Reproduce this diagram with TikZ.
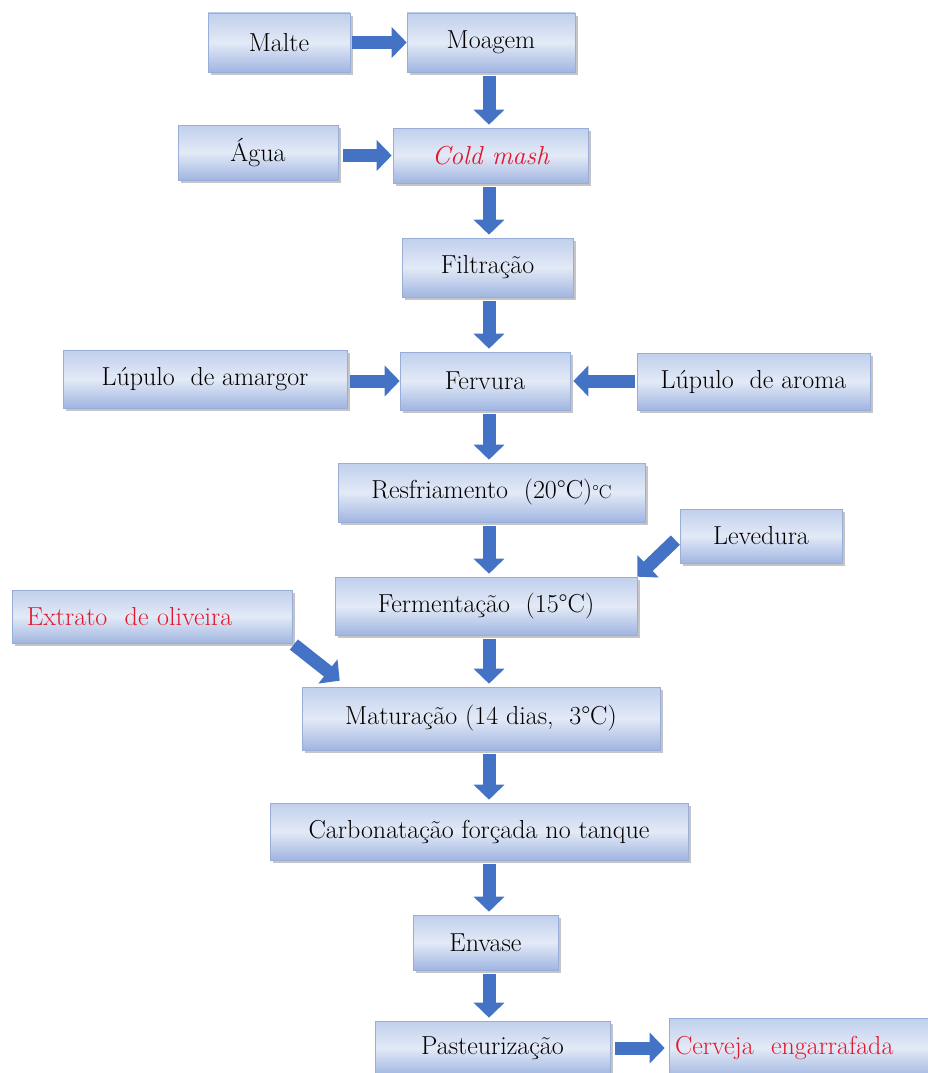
\documentclass[tikz,border=0pt]{standalone}
\usepackage{fontspec}
\newfontfamily\stagefont{Latin Modern Roman}
\usetikzlibrary{arrows.meta,shadows}

\definecolor{boxtop}{HTML}{C0CFEC}
\definecolor{boxmid}{HTML}{E3EAF7}
\definecolor{boxbot}{HTML}{A0B5E0}
\definecolor{boxline}{HTML}{98AED8}
\definecolor{flowblue}{HTML}{4472C4}
\definecolor{redtext}{HTML}{E3162B}

\tikzset{
    stage/.style={rectangle, draw=boxline, line width=0.6pt, top color=boxtop, bottom color=boxbot, middle color=boxmid,
        drop shadow={shadow xshift=3pt, shadow yshift=-3pt, fill=black!45, opacity=0.5},
        inner sep=0pt, text=black, font=\stagefont\fontsize{26}{30}\selectfont},
    flow/.style={draw=flowblue, line width=13pt, -{Triangle[width=30pt,length=15pt]}, shorten <=4pt, shorten >=3pt}
}

\begin{document}
\begin{tikzpicture}[x=1pt, y=-1pt]
        \useasboundingbox (0,0) rectangle (928,1073);
        \clip (0,0) rectangle (928,1073);
        \coordinate (spine) at (489,0);

        % Nodes
        \node[stage, minimum width=142pt, minimum height=59pt] (malte) at (279,42.5) {Malte};
        \node[stage, minimum width=168pt, minimum height=59pt] (moagem) at (491,42.5) {Moagem};
        \node[stage, minimum width=160pt, minimum height=55pt] (agua) at (258,152.5) {Água};
        \node[stage, minimum width=195pt, minimum height=55pt, text=redtext, font=\stagefont\fontsize{26}{30}\selectfont\itshape] (coldmash) at (490.5,155.5) {Cold mash};
        \node[stage, minimum width=171pt, minimum height=59pt] (filtracao) at (487.5,267.5) {Filtração};
        \node[stage, minimum width=170pt, minimum height=58pt] (fervura) at (485,381) {Fervura};
        \node[stage, minimum width=284pt, minimum height=58pt] (amargor) at (205,379) {Lúpulo\ \ de amargor};
        \node[stage, minimum width=233pt, minimum height=57pt] (aroma) at (753.5,381.5) {Lúpulo\ \ de aroma};
        \node[stage, minimum width=307pt, minimum height=59pt] (resfriamento) at (491.5,492.5) {Resfriamento\ \ (20°C){\fontsize{19}{20}\selectfont °C}};
        \node[stage, minimum width=162pt, minimum height=54pt] (levedura) at (761,536) {Levedura};
        \node[stage, minimum width=302pt, minimum height=58pt] (fermentacao) at (486,606) {Fermentação\ \ (15°C)};
        \node[stage, minimum width=280pt, minimum height=53pt, text width=250pt, align=left, text=redtext] (extrato) at (152,616.5) {Extrato\ \ de oliveira};
        \node[stage, minimum width=358pt, minimum height=63pt] (maturacao) at (481,718.5) {Maturação (14 dias,\ \ 3°C)};
        \node[stage, minimum width=418pt, minimum height=57pt] (carbonatacao) at (479,831.5) {Carbonatação forçada no tanque};
        \node[stage, minimum width=145pt, minimum height=55pt] (envase) at (485.5,942.5) {Envase};
        \node[stage, minimum width=235pt, minimum height=54pt] (pasteurizacao) at (492.5,1048) {Pasteurização};
        \node[stage, minimum width=271pt, minimum height=60pt, text width=259pt, align=left, text=redtext] (cerveja) at (804.5,1048) {Cerveja\ \ engarrafada};

        % Edges
        \draw[flow, shorten <=2pt, shorten >=0pt] (malte) -- (moagem);
        \draw[flow] (moagem.south -| spine) -- (coldmash.north -| spine);
        \draw[flow, shorten <=5pt, shorten >=1pt] (agua.east |- coldmash.west) -- (coldmash.west);
        \draw[flow] (coldmash.south -| spine) -- (filtracao.north -| spine);
        \draw[flow] (filtracao.south -| spine) -- (fervura.north -| spine);
        \draw[flow, shorten <=3pt, shorten >=0pt] (amargor.east |- fervura.west) -- (fervura.west);
        \draw[flow, shorten <=2pt, shorten >=3pt] (aroma.west |- fervura.east) -- (fervura.east);
        \draw[flow] (fervura.south -| spine) -- (resfriamento.north -| spine);
        \draw[flow] (resfriamento.south -| spine) -- (fermentacao.north -| spine);
        \draw[flow, shorten <=6pt, shorten >=0pt] (levedura.west) -- (fermentacao.north east);
        \draw[flow] (fermentacao.south -| spine) -- (maturacao.north -| spine);
        \draw[flow, shorten <=2pt, shorten >=0pt] (extrato.south east) -- ([xshift=38pt, yshift=6pt]maturacao.north west);
        \draw[flow] (maturacao.south -| spine) -- (carbonatacao.north -| spine);
        \draw[flow] (carbonatacao.south -| spine) -- (envase.north -| spine);
        \draw[flow] (envase.south -| spine) -- (pasteurizacao.north -| spine);
        \draw[flow, shorten <=5pt, shorten >=4pt] (pasteurizacao) -- (cerveja);
    \end{tikzpicture}
\end{document}
